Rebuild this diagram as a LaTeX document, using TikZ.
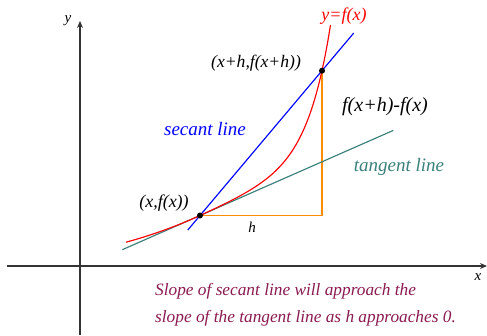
\documentclass[tikz,border=0pt]{standalone}
\usepackage{fontspec}
\setmainfont{Liberation Serif}
\usetikzlibrary{calc,arrows.meta}
\definecolor{pur}{RGB}{139,26,80}
\definecolor{tealc}{RGB}{58,128,122}
\definecolor{orgc}{RGB}{255,140,0}
\definecolor{axisgray}{RGB}{51,51,51}
\begin{document}
\begin{tikzpicture}[x=1pt,y=-1pt,
  txt/.style={inner sep=0pt, font=\itshape\fontsize{#1}{#1}\selectfont},
  dot/.style={circle, fill=black, inner sep=0pt, minimum size=6pt},
  axis/.style={draw=axisgray, line width=1.4pt, -{Stealth[length=7pt,width=6pt]}},
  curve/.style={line width=1.15pt}]
\useasboundingbox (0,0) rectangle (487,335);
% axes
\coordinate (xs) at (7,266);
\coordinate (xe) at (487,266);
\coordinate (ys) at (80,335);
\coordinate (ye) at (80,21);
\draw[axis] (xs) -- (xe);
\draw[axis] (ys) -- (ye);
\node[txt=15] (ylab) at (68,21) {y};
\node[txt=15] (xlab) at (478,277) {x};
% key points
\coordinate (P1) at (200,215.5);
\coordinate (P2) at (322,70.7);
\coordinate (C) at (322,215.5);
\coordinate (T1) at (122.3,249.7);
\coordinate (T2) at (393.3,130.4);
% orange triangle legs
\draw[orgc, line width=1.3pt] (P1) -- (C) -- (P2);
% tangent line
\draw[tealc, curve] (T1) -- (T2);
% secant line
\draw[blue, curve] ($(P2)!1.1!(P1)$) -- ($(P1)!1.26!(P2)$);
% curve y=f(x)
\draw[red, curve] plot[domain=-74:130.5, samples=120, smooth]
  ({200+\x}, {215.5 - (0.44*\x + 7.36*(exp((\x-65)/22.6)-0.0563) + (\x<0)*0.00115*\x*\x)});
\node[dot] (d1) at (P1) {};
\node[dot] (d2) at (P2) {};
% labels
\node[txt=18, text=red] (fl) at (344,16) {y=f(x)};
\node[txt=17.6] (p2l) at (256,63) {(x+h,f(x+h))};
\node[txt=20] (dfl) at (385,107) {f(x+h)-f(x)};
\node[txt=19, text=blue] (sl) at (205,129) {secant line};
\node[txt=19, text=tealc] (tl) at (399,167) {tangent line};
\node[txt=18, text=black] (p1l) at (164,203) {(x,f(x))};
\node[txt=15] (hl) at (252,227) {h};
\node[txt=17.3, text=pur, anchor=west] (m1) at (155,291) {Slope of secant line will approach the};
\node[txt=17.3, text=pur, anchor=west] (m2) at (155,318) {slope of the tangent line as h approaches 0.};
\end{tikzpicture}
\end{document}
